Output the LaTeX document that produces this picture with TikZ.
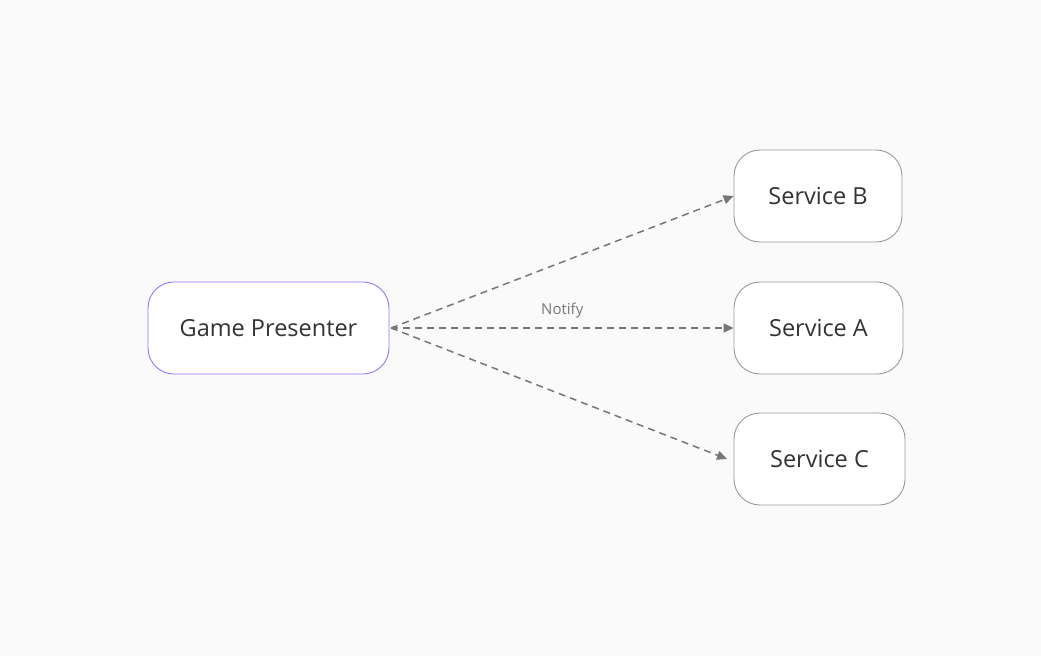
\documentclass[tikz,border=0pt]{standalone}
\usepackage{fontspec}
\setmainfont{Open Sans}
\usetikzlibrary{arrows.meta}
\definecolor{bg}{HTML}{FAFAFA}
\definecolor{boxline}{HTML}{9A9A9A}
\definecolor{purp}{HTML}{9775FA}
\definecolor{txt}{HTML}{333333}
\definecolor{arr}{HTML}{777777}
\begin{document}
\begin{tikzpicture}[x=1pt,y=-1pt,
  box/.style={draw=boxline, line width=0.9pt, fill=white, rounded corners=26pt,
    minimum height=92pt, text=txt, font=\fontsize{23.5}{27}\selectfont, inner sep=0pt},
  conn/.style={draw=arr, line width=1.5pt, dash pattern=on 7pt off 5pt,
    -{Triangle[length=10pt,width=9pt]}}
]
\fill[bg] (0,0) rectangle (1041,656);
\useasboundingbox (0,0) rectangle (1041,656);
\node[box, draw=purp, minimum width=241pt] (gp) at (268.5,328) {Game Presenter};
\node[box, minimum width=168pt] (sb) at (818,196) {Service B};
\node[box, minimum width=169pt] (sa) at (818.5,328) {Service A};
\node[box, minimum width=171pt] (sc) at (819.5,459) {Service C};
\coordinate (o) at (391,328);
\coordinate (cend) at (727,459);
\draw[conn] (o) -- (sb.west);
\draw[conn] (o) -- node[above=6pt, text=arr, font=\fontsize{15}{17}\selectfont] (nl) {Notify} (sa.west);
\draw[conn] (o) -- (cend);
\end{tikzpicture}
\end{document}
